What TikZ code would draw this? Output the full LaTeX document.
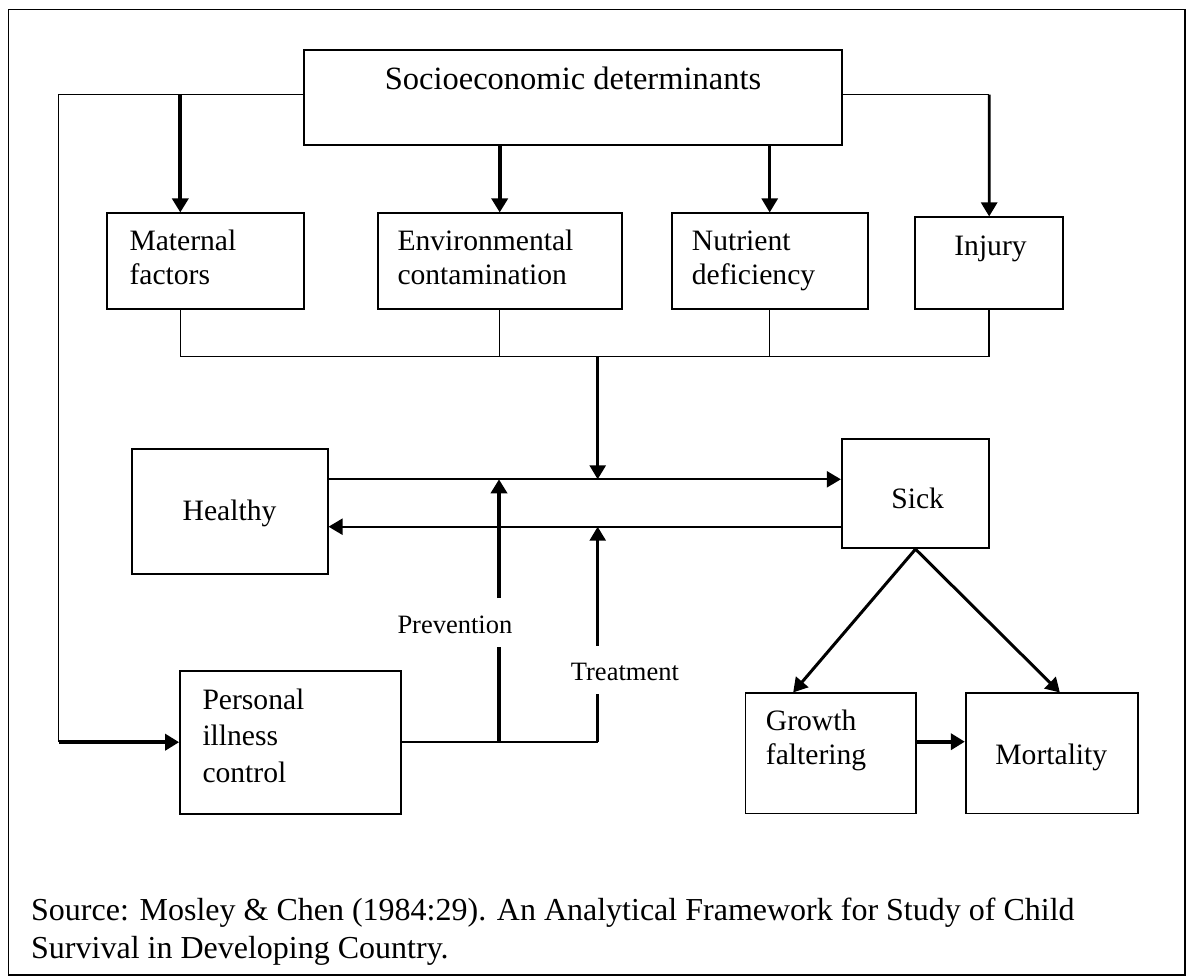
\documentclass[tikz,border=0pt]{standalone}
\usepackage{fontspec}
\setmainfont{Liberation Serif}
\usetikzlibrary{arrows.meta}
\begin{document}
\begin{tikzpicture}[x=1pt,y=-1pt,
  box/.style={draw, line width=1.7pt, inner sep=0pt},
  conn/.style={line width=1.5pt},
  tipA/.style={-{Triangle[width=16pt,length=14pt]}},
  arrthick/.style={line width=4pt, tipA},
  arrmed/.style={line width=2.7pt, tipA},
  arrH/.style={line width=2.3pt, tipA},
  arrdiag/.style={line width=3pt, tipA},
  txt/.style={inner sep=0pt, font=\fontsize{29.6}{33}\selectfont},
  lbl/.style={inner sep=0pt, font=\fontsize{26.5}{30}\selectfont},
  src/.style={inner sep=0pt, font=\fontsize{32}{36}\selectfont}]
\useasboundingbox (0,0) rectangle (1188,977);
\fill[white] (0,0) rectangle (1188,977);
\draw[line width=1.3pt] (8.5,9.5) rectangle (1185,975);

% boxes
\node[box, minimum width=538pt, minimum height=95.3pt] (socio) at (573,97.65) {};
\node[box, minimum width=197.3pt, minimum height=96pt] (maternal) at (205.35,261.3) {};
\node[box, minimum width=244pt, minimum height=96pt] (env) at (499.7,261.3) {};
\node[box, minimum width=196pt, minimum height=96pt] (nutrient) at (769.7,261.3) {};
\node[box, minimum width=147.7pt, minimum height=92pt] (injury) at (989.15,263.3) {};
\node[box, minimum width=195.7pt, minimum height=125.6pt] (healthy) at (229.85,511.5) {};
\node[box, minimum width=147.6pt, minimum height=109pt] (sick) at (915.5,493.8) {};
\node[box, minimum width=221pt, minimum height=143pt] (personal) at (290.5,742.2) {};
\node[box, minimum width=170.5pt, minimum height=120.2pt] (growth) at (830.75,753.4) {};
\node[box, minimum width=172.3pt, minimum height=120.2pt] (mortality) at (1051.85,753.4) {};

% texts
\node[inner sep=0pt, anchor=base, font=\fontsize{32.5}{36}\selectfont] (socioT) at (573,89.3) {Socioeconomic determinants};
\node[txt, anchor=base west] (mat1) at (129.3,250.7) {Maternal};
\node[txt, anchor=base west] (mat2) at (129.3,284) {factors};
\node[txt, anchor=base west] (env1) at (397.3,250.7) {Environmental};
\node[txt, anchor=base west] (env2) at (397.3,284) {contamination};
\node[txt, anchor=base west] (nut1) at (691.7,250.7) {Nutrient};
\node[txt, anchor=base west] (nut2) at (691.7,284) {deficiency};
\node[txt, anchor=base] (injT) at (990.5,255) {Injury};
\node[txt, anchor=base] (heaT) at (229.5,520) {Healthy};
\node[txt, anchor=base] (sicT) at (917.7,508.3) {Sick};
\node[txt, anchor=base west] (per1) at (202.3,709.3) {Personal};
\node[txt, anchor=base west] (per2) at (202.3,745.7) {illness};
\node[txt, anchor=base west] (per3) at (202.3,782.7) {control};
\node[txt, anchor=base west] (gro1) at (765.7,730) {Growth};
\node[txt, anchor=base west] (gro2) at (765.7,764.3) {faltering};
\node[txt, anchor=base] (morT) at (1051.3,764.3) {Mortality};
\node[lbl, anchor=base west] (prevT) at (397.3,633.3) {Prevention};
\node[lbl, anchor=base west] (treaT) at (570.7,680) {Treatment};
\node[src, anchor=base west] (src1) at (31,920.7) {Source: Mosley \& Chen (1984:29). An Analytical Framework for Study of Child};
\node[src, anchor=base west] (src2) at (31,958.3) {Survival in Developing Country.};

% helper coordinates
\coordinate (yline) at (0,94.65);
\coordinate (bus) at (0,356.7);
\coordinate (ta) at (0,479.3);
\coordinate (ba) at (0,526.7);
\coordinate (gm) at (0,741.7);
\coordinate (lc) at (58.7,742.2);
\coordinate (mA) at (180.3,94.65);
\coordinate (rc) at (989.3,94.65);
\coordinate (cx) at (597.7,0);
\coordinate (px) at (499,0);
\coordinate (pg1) at (499,647.3);
\coordinate (pg2) at (499,598);
\coordinate (tg1) at (597.7,694);
\coordinate (tg2) at (597.7,645.7);

% socioeconomic links
\draw[conn] (socio.west |- yline) -| (lc);
\draw[arrthick] (lc) -- (personal.west);
\draw[arrthick] (mA) -- (mA |- maternal.north);
\draw[arrthick] (env.north |- socio.south) -- (env.north);
\draw[arrmed] (nutrient.north |- socio.south) -- (nutrient.north);
\draw[conn] (socio.east |- yline) -- (rc);
\draw[arrmed] (rc) -- (injury.north);

% bus
\draw[conn] (mA |- maternal.south) |- (injury.south |- bus) -- (injury.south);
\draw[conn] (env.south) -- (env.south |- bus);
\draw[conn] (nutrient.south) -- (nutrient.south |- bus);
\draw[arrmed] (cx |- bus) -- (cx |- ta);

% healthy <-> sick
\draw[arrH] (healthy.east |- ta) -- (sick.west |- ta);
\draw[arrH] ([xshift=2pt]sick.west |- ba) -- (healthy.east |- ba);

% prevention / treatment
\draw[conn] (personal.east) -- (cx |- personal.east);
\draw[line width=4pt] (px |- personal.east) -- (pg1);
\draw[arrthick] (pg2) -- (px |- ta);
\draw[line width=2.7pt] (cx |- personal.east) -- (tg1);
\draw[arrmed] (tg2) -- (cx |- ba);

% outcomes
\draw[arrdiag] (sick.south) -- ([xshift=48.5pt]growth.north west);
\draw[arrdiag] (sick.south) -- ([xshift=95pt]mortality.north west);
\draw[arrthick] (growth.east |- gm) -- (mortality.west |- gm);
\end{tikzpicture}
\end{document}
